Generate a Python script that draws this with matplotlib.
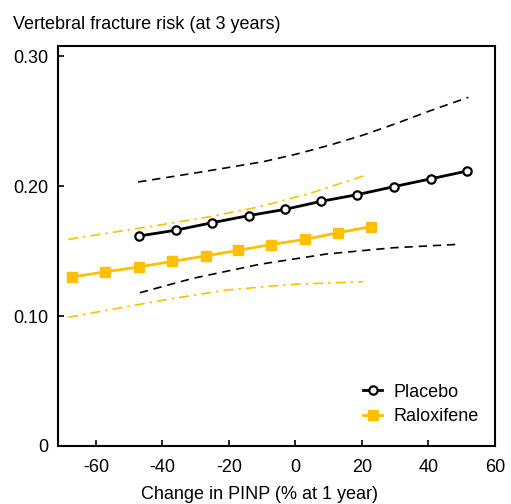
import matplotlib
matplotlib.use("Agg")
import matplotlib.pyplot as plt

plt.rcParams['font.family'] = ['Liberation Sans', 'DejaVu Sans']
plt.rcParams['axes.unicode_minus'] = False

# Fitted risk at each PINP change
placebo_x = [-47.1, -36.0, -25.0, -14.1, -3.2, 7.7, 18.5, 29.6, 40.8, 51.6]
placebo_y = [0.1615, 0.166, 0.1718, 0.1772, 0.182, 0.1882, 0.1933, 0.1995, 0.2056, 0.2115]

ralox_x = [-67.1, -57.2, -47.1, -37.1, -27.0, -17.2, -7.3, 2.9, 12.8, 22.6]
ralox_y = [0.130, 0.134, 0.1377, 0.142, 0.1462, 0.1505, 0.155, 0.159, 0.164, 0.1687]

# Confidence bands
placebo_hi_x = [-47.3, -29.7, -9.7, 0.4, 10.4, 20.4, 30.4, 40.5, 52.0]
placebo_hi_y = [0.2031, 0.2102, 0.2187, 0.2246, 0.2315, 0.2392, 0.2482, 0.2579, 0.2682]
placebo_lo_x = [-46.8, -30.8, -10.7, 9.4, 29.4, 49.5]
placebo_lo_y = [0.1179, 0.129, 0.1398, 0.1477, 0.1525, 0.1552]

ralox_hi_x = [-68.3, -40.8, -25.7, -10.7, 4.4, 21.4]
ralox_hi_y = [0.159, 0.170, 0.1764, 0.1841, 0.1944, 0.2085]
ralox_lo_x = [-68.3, -40.8, -20.7, -0.7, 20.4]
ralox_lo_y = [0.099, 0.1118, 0.120, 0.1244, 0.1264]

gold = '#FFC000'
fs = 13

fig = plt.figure(figsize=(5.11, 5.04), dpi=100)
ax = fig.add_axes([58 / 511, 1 - 446 / 504, 437 / 511, 400 / 504])

# bands
ax.plot(placebo_hi_x, placebo_hi_y, color='black', lw=1.2, ls=(0, (5, 3.5)))
ax.plot(placebo_lo_x, placebo_lo_y, color='black', lw=1.2, ls=(0, (5, 3.5)))
ax.plot(ralox_hi_x, ralox_hi_y, color=gold, lw=1.2, ls=(0, (6, 3, 1.5, 3)))
ax.plot(ralox_lo_x, ralox_lo_y, color=gold, lw=1.2, ls=(0, (6, 3, 1.5, 3)))

# fitted lines
ax.plot(placebo_x, placebo_y, color='black', lw=2, marker='o', ms=6,
        mfc='white', mec='black', mew=1.6, label='Placebo', zorder=4)
ax.plot(ralox_x, ralox_y, color=gold, lw=2, marker='s', ms=7.5,
        mfc=gold, mec=gold, label='Raloxifene', zorder=3)

ax.set_xlim(-71.4, 60)
ax.set_ylim(0, 0.3077)
ax.set_xticks([-60, -40, -20, 0, 20, 40, 60])
ax.set_yticks([0, 0.10, 0.20, 0.30])
ax.set_yticklabels(['0', '0.10', '0.20', '0.30'])
ax.tick_params(direction='in', length=4, width=1.2, labelsize=fs, pad=7)
ax.tick_params(axis='x', pad=9)
for sp in ax.spines.values():
    sp.set_linewidth(1.5)

ax.set_xlabel('Change in PINP (% at 1 year)', fontsize=fs)
ax.xaxis.set_label_coords((259.5 - 58) / 437, -0.1)

fig.text(13 / 511, 1 - 29 / 504, 'Vertebral fracture risk (at 3 years)',
         fontsize=fs, ha='left', va='baseline')

ax.legend(loc='center left', bbox_to_anchor=(0.697, 0.104), frameon=False,
          fontsize=fs, handlelength=1.1, handletextpad=0.6, borderpad=0,
          borderaxespad=0, labelspacing=0.4)

fig.savefig('out.png', dpi=100)
